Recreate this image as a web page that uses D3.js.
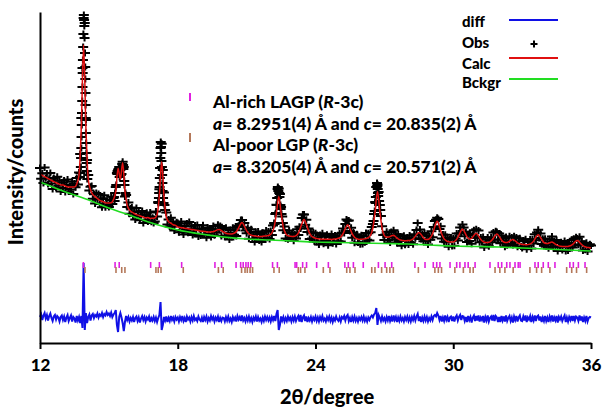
<!DOCTYPE html>
<html><head><meta charset="utf-8">
<script src="https://cdn.jsdelivr.net/npm/d3@7/dist/d3.min.js"></script>
<style>
body{margin:0;background:#fff}
svg{display:block}
text{font-family:Lato,"Open Sans",sans-serif;font-weight:900;fill:#000}
</style></head>
<body><svg id="chart" width="602" height="412"></svg>
<script>
// ---------------- data ----------------
const thetaStart = 12;
const obsStep = 0.05;   // step of observed and difference profiles (deg)
const calcStep = 0.1;   // step of calculated profile (deg)

const obsCounts = [
1750,1643,1697,1600,1754,1647,1696,1589,1643,1701,1595,1540,1649,1623,1553,1662,1572,1626,1516,1605,
1550,1625,1510,1585,1635,1515,1570,1535,1615,1490,1595,1557,1650,1585,1705,1890,2250,2750,3250,3200,
2230,1830,1681,1525,1562,1570,1443,1488,1394,1500,1435,1490,1391,1441,1357,1447,1478,1358,1404,1374,
1360,1431,1462,1390,1449,1420,1561,1700,1728,1760,1730,1690,1812,1760,1464,1480,1361,1405,1293,1344,
1355,1272,1315,1235,1349,1265,1311,1227,1278,1319,1200,1281,1232,1303,1214,1265,1306,1212,1253,1199,
1215,1315,1264,1410,1538,1950,1992,1730,1506,1330,1305,1185,1234,1166,1253,1165,1212,1124,1191,1208,
1200,1108,1171,1214,1122,1085,1173,1136,1194,1102,1210,1118,1166,1079,1142,1175,1093,1181,1064,1142,
1075,1143,1177,1085,1124,1052,1156,1096,1146,1061,1132,1170,1078,1138,1104,1183,1131,1170,1069,1146,
1138,1062,1152,1074,1102,1035,1129,1060,1152,1082,1128,1071,1165,1172,1189,1230,1229,1157,1200,1126,
1097,1152,1042,1105,1138,1040,1087,1010,1109,1057,1115,1024,1089,1010,1102,1078,1040,1126,1053,1116,
1040,1120,1080,1175,1201,1290,1383,1540,1546,1490,1361,1265,1127,1165,1044,1103,1037,1125,1052,1096,
1101,1022,1088,1045,1137,1080,1163,1145,1249,1285,1285,1182,1232,1110,1144,1040,1106,1046,1106,1017,
1098,1010,1058,986,1079,1018,1098,993,1063,1027,1082,977,1067,1011,1091,997,1049,1075,991,1064,
1017,1094,1016,1102,1144,1100,1191,1235,1223,1224,1120,1153,1052,1105,1003,1070,1088,1005,1051,987,
1078,989,1065,1007,1099,1033,1098,1025,1107,1160,1190,1290,1411,1560,1586,1510,1380,1270,1168,1080,
1029,1086,1113,1028,1074,1005,1111,1055,1128,1034,1085,1001,1087,1021,1065,972,1045,1073,982,1033,
1054,985,1076,1005,1044,988,1088,1048,1129,1200,1075,1135,1040,1089,1018,1099,1021,1075,985,1068,
1032,1117,1058,1160,1221,1232,1252,1240,1139,1167,1044,1085,1012,1082,1007,1052,963,1037,1056,971,
1046,973,1045,1095,1025,1095,1155,1103,1185,1154,1067,1109,1011,1090,1020,1079,992,1082,1127,1053,
1138,1054,1125,1008,1056,1010,1059,955,1035,985,1055,968,1027,1057,1007,1104,1036,1118,1111,1033,
1096,998,1076,1000,1045,962,1059,977,1020,1067,990,1055,979,1067,1006,1056,962,1017,1047,964,
951,1025,965,1038,937,1009,976,1036,946,1037,994,1088,1027,1105,1133,1049,1095,991,1043,972,
1042,965,1014,948,1037,990,1064,962,1021,968,1031,921,1001,959,1007,930,979,1019,919,985,
926,999,957,1029,956,1043,985,1058,1046,982,1063,975,1017,924,991,932,1003,916,969,987,
975
];

// extra observed points recorded on the flanks of the sharp reflections [2θ, counts]
const obsPeakPoints = [
[13.74,1660],[13.76,1700],[13.78,1760],[13.79,1850],[13.80,1950],[13.81,2060],[13.82,2180],[13.83,2300],
[13.84,2420],[13.85,2560],[13.86,2700],[13.87,2830],[13.88,2960],[13.89,3090],[13.91,3280],[13.92,3230],
[13.93,3170],[13.94,3050],[13.96,2900],[13.97,2760],[13.975,2640],[13.98,2500],[13.985,2380],[13.99,2250],
[14.00,2100],[14.01,2000],[14.02,1900],[14.03,1800],[14.04,1720],[14.06,1640],
[15.22,1460],[15.27,1500],[15.32,1580],[15.37,1690],[15.38,1720],[15.42,1740],[15.44,1700],[15.47,1660],
[15.52,1680],[15.57,1760],[15.58,1790],[15.62,1780],[15.63,1740],[15.67,1620],[15.68,1580],[15.72,1500],
[17.16,1400],[17.18,1450],[17.19,1500],[17.21,1560],[17.22,1650],[17.23,1750],[17.24,1850],[17.26,2010],
[17.27,1960],[17.28,1900],[17.29,1820],[17.31,1760],[17.32,1680],[17.33,1600],[17.34,1520],[17.36,1450],
[17.38,1400],[17.42,1380],
[22.22,1190],[22.28,1300],[22.32,1380],[22.33,1450],[22.36,1560],[22.38,1520],[22.42,1500],[22.43,1460],
[22.47,1380],[22.48,1340],[22.52,1290],[22.58,1200],
[26.53,1220],[26.58,1320],[26.62,1400],[26.63,1460],[26.66,1560],[26.68,1600],[26.69,1570],[26.71,1540],
[26.72,1500],[26.73,1470],[26.77,1420],[26.78,1380],[26.82,1330]
];

const calcCounts = [
1690,1677,1664,1651,1638,1625,1614,1603,1592,1581,
1580,1570,1560,1560,1560,1560,1590,1680,2170,2980,
2150,1641,1532,1483,1464,1445,1426,1417,1408,1399,
1400,1402,1434,1516,1748,1640,1802,1524,1376,1328,
1310,1295,1284,1276,1268,1260,1252,1254,1246,1248,
1250,1284,1478,1812,1466,1260,1214,1198,1182,1176,
1160,1156,1152,1148,1144,1140,1136,1132,1128,1124,
1120,1117,1114,1111,1111,1112,1118,1129,1136,1124,
1108,1097,1092,1089,1092,1103,1130,1174,1204,1170,
1122,1092,1078,1072,1069,1065,1064,1067,1070,1073,
1080,1100,1161,1303,1466,1301,1157,1094,1072,1067,
1066,1068,1082,1123,1189,1235,1187,1119,1076,1056,
1048,1043,1039,1038,1038,1037,1037,1036,1039,1041,
1047,1061,1094,1146,1183,1145,1092,1058,1043,1036,
1038,1040,1044,1053,1077,1150,1321,1516,1320,1148,
1074,1058,1059,1071,1078,1060,1042,1030,1025,1022,
1024,1026,1034,1053,1084,1105,1085,1053,1036,1035,
1052,1093,1166,1217,1164,1089,1042,1022,1013,1011,
1011,1025,1055,1105,1140,1107,1061,1040,1047,1077,
1098,1070,1036,1014,1005,1005,1012,1032,1066,1091,
1066,1031,1010,1004,1010,1025,1034,1021,1002,992,
986,985,982,986,996,1019,1057,1083,1055,1018,
997,994,1002,1009,996,981,971,967,964,964,
966,972,986,1010,1026,1008,982,966,958,954,
950
];

const diffCounts = [
20,45,-10,35,60,5,40,-15,30,55,10,-20,25,40,-5,30,15,-25,20,35,
-10,25,-30,15,40,-20,10,35,-25,20,5,-35,30,-15,20,-40,30,-90,560,-110,
60,-40,20,45,-15,35,50,10,40,25,55,15,45,30,60,20,50,35,70,40,
55,30,65,20,45,60,90,-60,-130,20,60,15,-40,-120,-30,30,-10,20,-25,10,
-15,20,-30,10,25,-20,15,-35,5,30,-10,20,-25,15,-5,25,-30,10,-15,20,
-20,15,-30,10,40,170,-110,-60,20,-15,25,-30,10,-20,30,-10,15,-25,20,-5,
15,-25,20,-10,30,-20,10,-30,25,-5,15,-25,20,-15,30,-10,5,-20,25,-5,
-20,15,-30,20,-10,25,-25,10,-15,30,-5,20,-25,15,-10,25,-30,10,-20,15,
10,-25,20,-15,25,-20,5,-30,20,-10,15,-25,30,-5,20,-20,35,-15,10,-25,
20,-15,25,-20,10,-30,15,-10,25,-25,20,-15,5,-30,15,-20,25,-10,20,-15,
15,-25,20,-10,30,-20,50,90,-110,-60,25,-15,20,-25,10,-20,25,-10,15,-25,
20,-15,25,-20,10,30,-25,40,-30,15,35,-20,25,-30,10,-15,20,-25,15,-10,
25,-20,15,-25,20,-10,30,-15,5,-25,20,-10,25,-20,15,-30,10,-15,25,-5,
-20,15,-25,20,5,30,-15,25,40,-20,10,-30,20,-15,25,-20,10,-25,15,-10,
20,-15,25,-20,10,-25,15,-10,20,35,15,45,60,110,-60,40,15,-20,25,-15,
10,-25,20,-15,30,-20,15,-25,35,-10,20,-30,15,-20,25,-15,10,-25,20,-10,
25,-20,15,-25,20,-10,30,-15,25,50,-20,25,-30,15,-20,25,-15,20,-25,10,
-15,25,-10,30,40,25,60,35,-10,30,-25,15,-20,35,-10,20,-30,15,25,-20,
25,-25,15,35,-15,20,40,-10,30,25,-20,20,-30,30,-10,20,-35,15,35,-20,
30,-15,35,-25,15,-10,30,-35,20,-15,35,-25,10,25,-15,40,-20,30,15,-30,
20,-30,30,-15,25,-25,35,-20,10,30,-20,15,-35,25,-10,30,-25,15,35,-15,
-20,25,-15,35,-30,15,-5,30,-30,20,-15,35,-20,25,35,-15,25,-30,15,-20,
30,-20,15,-30,25,-10,35,-25,15,-15,30,-35,20,-5,25,-20,10,35,-30,15,
-25,20,-10,30,-20,30,-15,25,15,-20,35,-15,25,-30,15,-20,30,-25,10,20,
15
];

const bkgTheta  = [12,13,14,15,16,17,18,19,20,21,22,23,24,25,26,27,28,29,30,31,32,33,34,35,36];
const bkgCounts = [1610,1520,1440,1350,1270,1190,1130,1090,1060,1040,1030,1020,1010,1005,1000,995,990,980,970,965,960,950,940,930,920];

// reflection positions (2θ)
const lagpTicks = [13.89,15.27,15.45,16.82,17.20,18.17,19.62,19.91,20.54,20.74,20.85,20.97,21.07,21.18,22.13,22.34,
  23.11,23.18,23.44,23.61,24.05,24.56,25.28,25.43,25.65,26.08,26.74,27.03,27.32,28.33,28.77,29.13,29.28,29.42,29.86,
  30.15,30.29,30.51,30.65,30.95,31.60,31.96,32.11,32.33,32.47,32.69,32.83,32.91,33.56,33.70,33.92,34.14,34.43,
  35.08,35.23,35.45,35.74];
const lgpTicks = [13.96,15.31,15.56,15.70,17.05,17.15,17.27,18.24,19.77,19.98,20.78,20.93,21.03,21.15,21.26,22.19,22.42,
  23.25,23.35,23.54,24.34,24.63,25.36,25.50,25.72,26.45,26.59,26.88,27.10,27.24,27.39,28.48,29.20,29.35,29.49,30.07,
  30.44,30.73,30.87,31.82,32.03,32.25,32.61,33.34,33.63,33.85,34.21,34.94,35.16,35.37,35.81];

const xTickValues = [12,18,24,30,36];
const xTitle = "2θ/degree";
const yTitle = "Intensity/counts";
const legendItems = ["diff","Obs","Calc","Bckgr"];

// ---------------- layout / style ----------------
const plot = {left:40, right:591, top:12, bottom:343};
const diffOffset = 240;            // counts shift used to draw the difference curve
const tickRowLAGP = [810, 750];    // counts span of LAGP reflection marks
const tickRowLGP  = [760, 700];
const colors = {obs:"#000", calc:"#e01010", bkg:"#22dd22", diff:"#1010e6", lagp:"#e020e0", lgp:"#b4785a"};

const svg = d3.select("#chart");
const x = d3.scaleLinear().domain([12,36]).range([plot.left, plot.right]);
const y = d3.scaleLinear().domain([0,3310]).range([plot.bottom, plot.top]);

const obsData = obsCounts.map((c,i)=>[thetaStart + i*obsStep, c]).concat(obsPeakPoints);
const calcData = calcCounts.map((c,i)=>[thetaStart + i*calcStep, c]);
const diffData = diffCounts.map((c,i)=>[thetaStart + i*obsStep, c]);
const bkgData = bkgTheta.map((t,i)=>[t, bkgCounts[i]]);

// observed crosses
const cross = "M-5,0H5M0,-3.5V3.5";
svg.append("g").selectAll("path").data(obsData).join("path")
  .attr("d", cross)
  .attr("transform", d=>`translate(${x(d[0])},${y(d[1])})`)
  .attr("stroke", colors.obs).attr("stroke-width", 2).attr("fill","none");

// background
svg.append("path").datum(bkgData)
  .attr("d", d3.line().x(d=>x(d[0])).y(d=>y(d[1])).curve(d3.curveMonotoneX))
  .attr("fill","none").attr("stroke", colors.bkg).attr("stroke-width", 1.6);

// calculated
svg.append("path").datum(calcData)
  .attr("d", d3.line().x(d=>x(d[0])).y(d=>y(d[1])).curve(d3.curveMonotoneX))
  .attr("fill","none").attr("stroke", colors.calc).attr("stroke-width", 1.5);

// difference
svg.append("path").datum(diffData)
  .attr("d", d3.line().x(d=>x(d[0])).y(d=>y(d[1] + diffOffset)))
  .attr("fill","none").attr("stroke", colors.diff).attr("stroke-width", 2);

// reflection marks
svg.append("g").selectAll("line").data(lagpTicks).join("line")
  .attr("x1", d=>x(d)).attr("x2", d=>x(d))
  .attr("y1", y(tickRowLAGP[0])).attr("y2", y(tickRowLAGP[1]))
  .attr("stroke", colors.lagp).attr("stroke-width", 1.6);
svg.append("g").selectAll("line").data(lgpTicks).join("line")
  .attr("x1", d=>x(d)).attr("x2", d=>x(d))
  .attr("y1", y(tickRowLGP[0])).attr("y2", y(tickRowLGP[1]))
  .attr("stroke", colors.lgp).attr("stroke-width", 1.6);

// axes
const xAxis = svg.append("g").attr("transform", `translate(0,${plot.bottom})`)
  .call(d3.axisBottom(x).tickValues(xTickValues).tickSize(6).tickSizeOuter(0).tickFormat(d3.format("d")));
xAxis.select(".domain").attr("stroke","#000").attr("stroke-width",2);
xAxis.selectAll(".tick line").attr("stroke","#000").attr("stroke-width",2);
xAxis.selectAll(".tick text").attr("y", 16).attr("dy","0.71em")
  .style("font-size","17px").style("font-family","Lato,sans-serif").style("font-weight","900").attr("fill","#000");

const yAxis = svg.append("g").attr("transform", `translate(${plot.left},0)`)
  .call(d3.axisLeft(y).tickValues([]).tickSizeOuter(0));
yAxis.select(".domain").attr("stroke","#000").attr("stroke-width",2);

svg.append("text").attr("x", 327).attr("y", 404).attr("text-anchor","middle")
  .style("font-size","20px").text(xTitle);
svg.append("text").attr("transform","translate(23,172) rotate(-90)").attr("text-anchor","middle")
  .style("font-size","20px").text(yTitle);

// legend
const legY = [27, 48, 69, 88];
const lg = svg.append("g");
legendItems.forEach((t,i)=>{
  lg.append("text").attr("x", 462).attr("y", legY[i]).style("font-size","15px").text(t);
});
lg.append("line").attr("x1",509).attr("x2",558).attr("y1",20).attr("y2",20).attr("stroke",colors.diff).attr("stroke-width",2);
lg.append("path").attr("d","M-3.5,0H3.5M0,-3.5V3.5").attr("transform","translate(534,44)").attr("stroke","#000").attr("stroke-width",2);
lg.append("line").attr("x1",509).attr("x2",558).attr("y1",58).attr("y2",58).attr("stroke",colors.calc).attr("stroke-width",2);
lg.append("line").attr("x1",509).attr("x2",558).attr("y1",79).attr("y2",79).attr("stroke",colors.bkg).attr("stroke-width",2);

// phase annotation
const ann = svg.append("g").style("font-size","17.5px");
ann.append("line").attr("x1",190).attr("x2",190).attr("y1",93).attr("y2",101).attr("stroke",colors.lagp).attr("stroke-width",2);
ann.append("line").attr("x1",190).attr("x2",190).attr("y1",133).attr("y2",142).attr("stroke",colors.lgp).attr("stroke-width",2);
function phaseLine(yy, name){
  const t = ann.append("text").attr("x",213).attr("y",yy);
  t.append("tspan").text(name + " (");
  t.append("tspan").style("font-style","italic").text("R");
  t.append("tspan").text("-3c)");
}
function cellLine(yy, a, c){
  const t = ann.append("text").attr("x",213).attr("y",yy);
  t.append("tspan").style("font-style","italic").text("a");
  t.append("tspan").text("= " + a + " Å and ");
  t.append("tspan").style("font-style","italic").text("c");
  t.append("tspan").text("= " + c + " Å");
}
phaseLine(108, "Al-rich LAGP");
cellLine(129.5, "8.2951(4)", "20.835(2)");
phaseLine(151, "Al-poor LGP");
cellLine(172.5, "8.3205(4)", "20.571(2)");
</script>
</body></html>
